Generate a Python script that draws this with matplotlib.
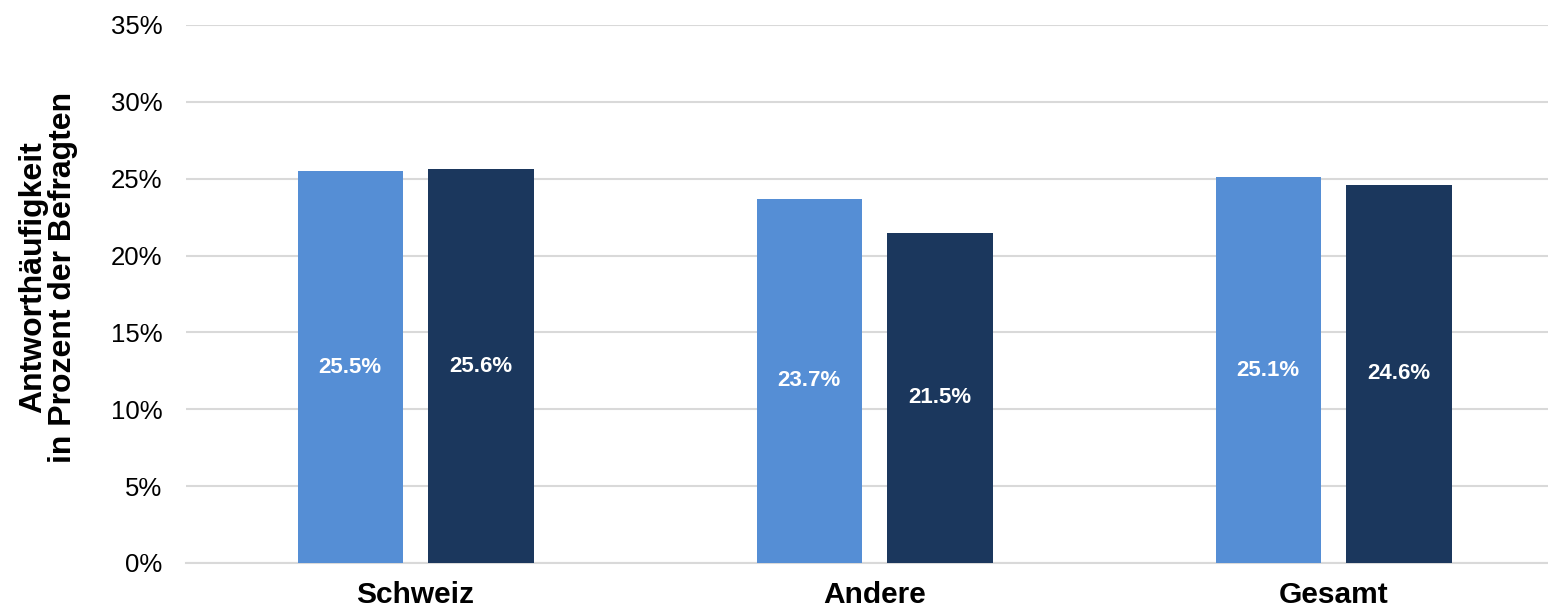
import numpy as np
import matplotlib
matplotlib.use('Agg')
import matplotlib.pyplot as plt
from matplotlib.ticker import PercentFormatter

plt.rcParams['font.family'] = ['Liberation Sans', 'DejaVu Sans']

# data
categories = ['Schweiz', 'Andere', 'Gesamt']
series_a = [25.5, 23.7, 25.1]
series_b = [25.6, 21.5, 24.6]
yticks = [0, 5, 10, 15, 20, 25, 30, 35]

col_a = '#558ed5'
col_b = '#1b375d'


def main():
  fig = plt.figure(figsize=(15.48, 6.13), dpi=100)
  ax = fig.add_axes([186/1548, 1-563/613, 1-186/1548, (563-25)/613])

  x = np.arange(len(categories))
  w = 0.229
  off = 0.1425
  ba = ax.bar(x - off, series_a, w, color=col_a, zorder=3)
  bb = ax.bar(x + off, series_b, w, color=col_b, zorder=3)

  for bars, vals in ((ba, series_a), (bb, series_b)):
    for r, v in zip(bars, vals):
      ax.text(r.get_x() + r.get_width()/2, v/2, '%.1f%%' % v,
              ha='center', va='center', color='white',
              fontsize=16, fontweight='bold', zorder=4)

  ax.set_ylim(0, 35)
  ax.set_xlim(-0.5, 2.467)
  ax.set_yticks(yticks)
  ax.yaxis.set_major_formatter(PercentFormatter(decimals=0))
  ax.set_xticks(x)
  ax.set_xticklabels(categories, fontsize=21.5, fontweight='bold')
  ax.tick_params(axis='y', length=0, pad=17, labelsize=18.5, colors='#000000')
  ax.tick_params(axis='x', length=0, pad=13)
  ax.grid(axis='y', color='#d9d9d9', linewidth=1.5, zorder=0)
  for s in ['top', 'right', 'left']:
    ax.spines[s].set_visible(False)
  ax.spines['bottom'].set_color('#d9d9d9')
  ax.spines['bottom'].set_linewidth(1.5)

  fig.text(48/1548, 1-277/613, 'Antworthäufigkeit\nin Prozent der Befragten',
           rotation=90, ha='center', va='center', multialignment='center',
           fontsize=23, fontweight='bold', linespacing=1.0)

  plt.savefig('out.png', dpi=100)
  plt.close()


if __name__ == "__main__":
  main()
